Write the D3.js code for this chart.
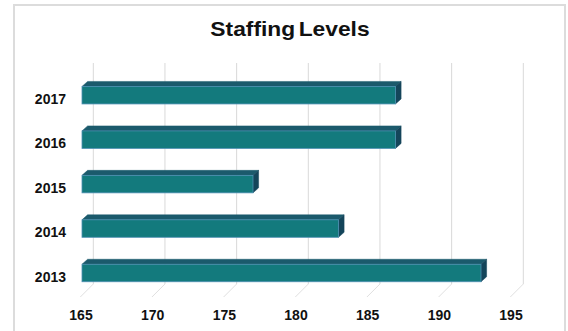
<!DOCTYPE html>
<html><head><meta charset="utf-8">
<script src="https://cdn.jsdelivr.net/npm/d3@7"></script>
<style>body{margin:0;background:#fff}svg{display:block}</style>
</head><body>
<svg id="c" width="568" height="331"></svg>
<script>
const categories = ["2017","2016","2015","2014","2013"];
const values = [187, 187, 177, 183, 193];
const xTicks = [165,170,175,180,185,190,195];
const title = "Staffing Levels";

const svg = d3.select("#c");
const font = "'Liberation Sans', Arial, sans-serif";

// frame
svg.append("rect").attr("x",14).attr("y",5).attr("width",551).attr("height",340)
  .attr("fill","#fff").attr("stroke","#dcdcdc").attr("stroke-width",2);

// scales
const xBack = d3.scaleLinear().domain([165,195]).range([93.3,523.3]);
const xFront = d3.scaleLinear().domain([165,195]).range([82,509.5]);
const y = d3.scalePoint().domain(categories).range([95.2,273]);
const barH = 17.5, dX = 5.6, dY = 5;
const wallTop = 63, wallBottom = 284, floorDX = -13, floorDY = 13;

// gridlines on back wall + floor
const g = svg.append("g");
xTicks.forEach(t => {
  const bx = xBack(t);
  g.append("line").attr("x1",bx).attr("x2",bx).attr("y1",wallTop).attr("y2",wallBottom)
    .attr("stroke","#d9d9d9").attr("stroke-width",1);
  g.append("line").attr("x1",bx).attr("x2",bx+floorDX).attr("y1",wallBottom).attr("y2",wallBottom+floorDY)
    .attr("stroke","#e0e0e0").attr("stroke-width",1);
});

// bars
const bars = svg.append("g");
categories.forEach((c,i) => {
  const x0 = xFront(165), x1 = xFront(values[i]);
  const yt = y(c) - barH/2, yb = yt + barH;
  bars.append("path").attr("d",`M${x0},${yt}L${x0+dX},${yt-dY}L${x1+dX},${yt-dY}L${x1},${yt}Z`)
    .attr("fill","#1b5a6c").attr("stroke","#1b5a6c").attr("stroke-width",0.5);
  bars.append("path").attr("d",`M${x1},${yt}L${x1+dX},${yt-dY}L${x1+dX},${yb-dY}L${x1},${yb}Z`)
    .attr("fill","#14455a").attr("stroke","#14455a").attr("stroke-width",0.5);
  bars.append("rect").attr("x",x0).attr("y",yt).attr("width",x1-x0).attr("height",barH)
    .attr("fill","#137a7d").attr("stroke","#4d8fb2").attr("stroke-width",0.8);
});

// y labels
svg.append("g").selectAll("text").data(categories).join("text")
  .attr("x",66).attr("y",d => y(d)+8.7).attr("text-anchor","end")
  .attr("font-family",font).attr("font-weight","bold").attr("font-size",14)
  .attr("fill","#111").text(d => d);

// x labels
svg.append("g").selectAll("text").data(xTicks).join("text")
  .attr("x",d => xBack(d)-12.3).attr("y",320).attr("text-anchor","middle")
  .attr("font-family",font).attr("font-weight","bold").attr("font-size",14)
  .attr("fill","#111").text(d => d);

// title
svg.append("text").attr("transform","translate(290,35.5) scale(1.14,1)")
  .attr("text-anchor","middle").attr("word-spacing",-2.5)
  .attr("font-family",font).attr("font-weight","bold").attr("font-size",20)
  .attr("fill","#111").text(title);
</script>
</body></html>
